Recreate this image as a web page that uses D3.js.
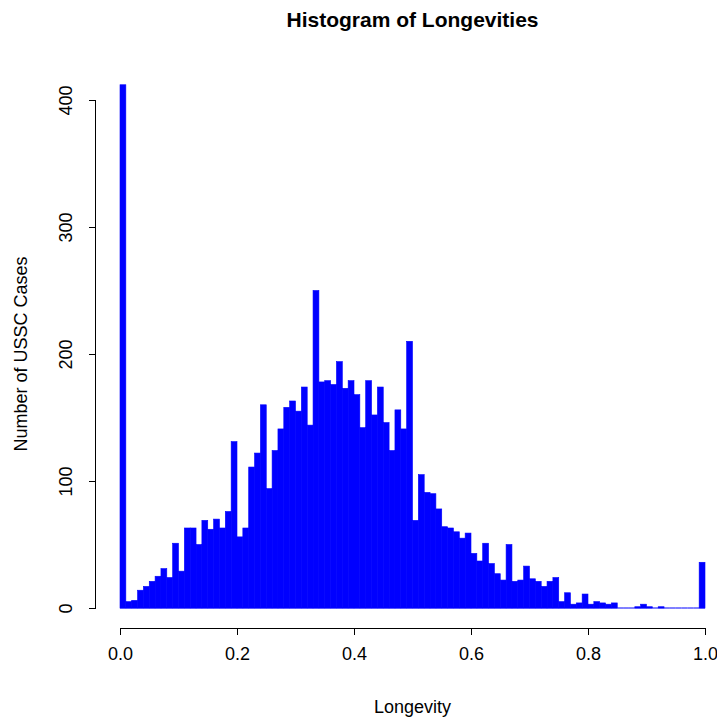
<!DOCTYPE html>
<html>
<head>
<meta charset="utf-8">
<script src="https://cdn.jsdelivr.net/npm/d3@7"></script>
<style>
html,body{margin:0;padding:0;background:#fff;}
svg text{font-family:"Liberation Sans",Arial,Helvetica,sans-serif;fill:#000;}
</style>
</head>
<body>
<svg id="chart" width="717" height="717"></svg>
<script>
// Bin edges: 0.00, 0.01, ..., 1.00 (100 bins)
const binStart = 0, binWidth = 0.01;
const counts = [
 412, 5, 6, 14, 17, 21, 25, 31, 24, 51,
 29, 63, 63, 50, 69, 62, 70, 63, 76, 131,
 56, 63, 111, 122, 160, 94, 124, 141, 158, 163,
 155, 174, 144, 250, 178, 179, 176, 194, 173, 179,
 168, 142, 179, 152, 174, 146, 124, 156, 141, 210,
 69, 105, 91, 90, 78, 64, 63, 60, 55, 59,
 43, 37, 51, 35, 27, 22, 50, 21, 22, 33,
 23, 21, 17, 21, 24, 5, 12, 3, 4, 11,
 3, 5, 4, 3, 4, 0, 0, 0, 1, 3,
 1, 0, 1, 0, 0, 0, 0, 0, 0, 36
];
const xTicks = [0, 0.2, 0.4, 0.6, 0.8, 1.0];
const yTicks = [0, 100, 200, 300, 400];
const title = "Histogram of Longevities";
const xLabel = "Longevity";
const yLabel = "Number of USSC Cases";

const bins = counts.map((c, i) => ({x0: binStart + i * binWidth, x1: binStart + (i + 1) * binWidth, n: c}));

const svg = d3.select("#chart");
const x = d3.scaleLinear().domain([0, 1]).range([120, 705]);
const y = d3.scaleLinear().domain([0, 400]).range([608, 100]);

// bars
svg.append("g").selectAll("rect").data(bins).join("rect")
  .attr("x", d => x(d.x0))
  .attr("y", d => y(d.n))
  .attr("width", d => x(d.x1) - x(d.x0))
  .attr("height", d => y(0) - y(d.n))
  .attr("fill", "#0000ff")
  .attr("stroke", "#0000ff")
  .attr("stroke-width", 0.6);

// bottom edges of bins (visible for empty bins, as R draws their borders)
svg.append("g").selectAll("line").data(bins).join("line")
  .attr("x1", d => x(d.x0)).attr("x2", d => x(d.x1))
  .attr("y1", y(0)).attr("y2", y(0))
  .attr("stroke", "#0000ff").attr("stroke-width", 1);

// x axis
const xAxis = d3.axisBottom(x).tickValues(xTicks).tickFormat(d3.format(".1f")).tickSize(7).tickPadding(12);
const gx = svg.append("g").attr("transform", "translate(0,628)").call(xAxis);
gx.select(".domain").attr("d", `M${x(0)},0.5H${x(1)}`).attr("stroke", "#000");
gx.selectAll(".tick line").attr("stroke", "#000");
gx.selectAll(".tick text").attr("font-size", 18).attr("font-family", "Liberation Sans, Arial, sans-serif").attr("fill", "#000");

// y axis
const yAxis = d3.axisLeft(y).tickValues(yTicks).tickFormat(d3.format("d")).tickSize(7);
const gy = svg.append("g").attr("transform", "translate(96,0)").call(yAxis);
gy.select(".domain").attr("d", `M-0.5,${y(0)}V${y(400)}`).attr("stroke", "#000");
gy.selectAll(".tick line").attr("stroke", "#000");
gy.selectAll(".tick text")
  .attr("font-size", 18).attr("font-family", "Liberation Sans, Arial, sans-serif").attr("fill", "#000")
  .attr("x", null).attr("dy", null)
  .attr("text-anchor", "middle")
  .attr("transform", "translate(-24,0) rotate(-90)");

// title and labels
svg.append("text").attr("x", 412.5).attr("y", 27).attr("text-anchor", "middle")
  .attr("font-size", 21).attr("font-weight", "bold").text(title);
svg.append("text").attr("x", 412.5).attr("y", 713).attr("text-anchor", "middle")
  .attr("font-size", 18).text(xLabel);
svg.append("text").attr("transform", "translate(27,354) rotate(-90)").attr("text-anchor", "middle")
  .attr("font-size", 18).text(yLabel);
</script>
</body>
</html>
